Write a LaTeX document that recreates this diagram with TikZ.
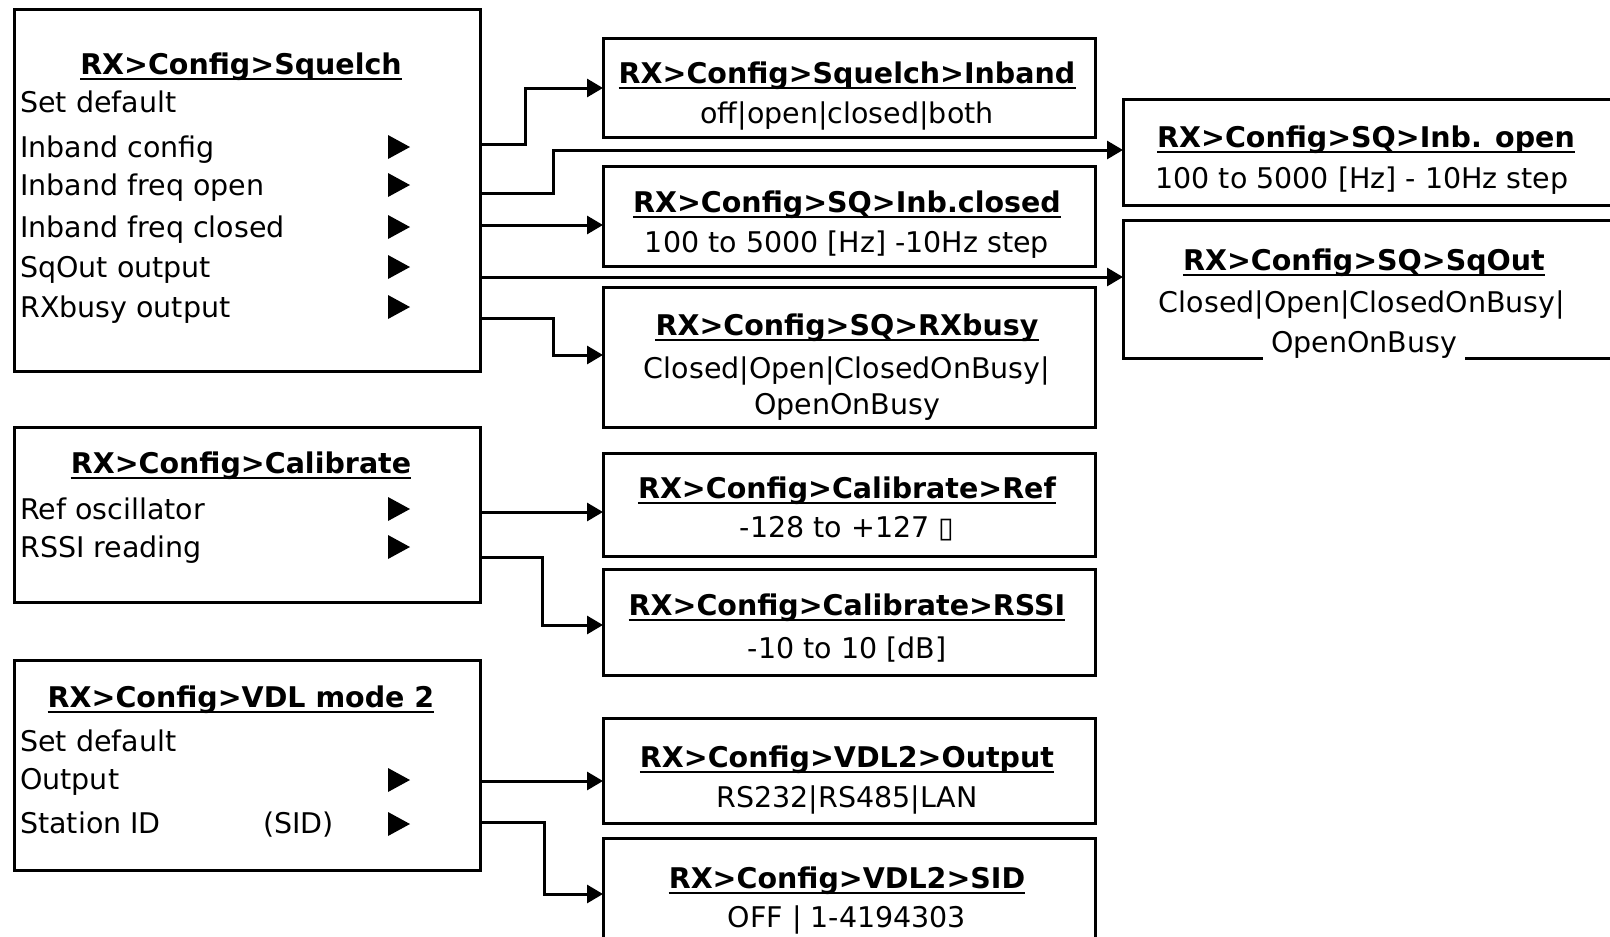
\documentclass[tikz,border=0pt]{standalone}
\usepackage{fontspec}
\setmainfont{DejaVu Sans}
\usetikzlibrary{arrows.meta}
\begin{document}
\begin{tikzpicture}[x=1pt,y=-1pt,
  font=\fontsize{28.5}{34}\selectfont,
  box/.style={draw, line width=3pt, anchor=north west, inner sep=0pt, outer sep=0pt},
  item/.style={inner sep=0pt, anchor=base west},
  val/.style={inner sep=0pt, anchor=base},
  ttl/.style={inner sep=0pt, anchor=base, font=\fontsize{28.5}{34}\selectfont\bfseries},
  uline/.style={line width=2.6pt},
  conn/.style={line width=3pt, -{Triangle[length=16pt,width=18pt]}},
  tri/.pic={\fill (0,-12) -- (22,0) -- (0,12) -- cycle;}
]
\useasboundingbox (0,0) rectangle (1610,937);
\clip (0,0) rectangle (1610,937);
\fill[white] (0,0) rectangle (1610,937);
\newcommand\ulin[1]{\draw[uline] ([yshift=-5pt]#1.base west) -- ([yshift=-5pt]#1.base east);}

% ---------- left boxes ----------
\node[box, minimum width=466pt, minimum height=361.5pt] (sq) at (14,9.5) {};
\node[box, minimum width=466pt, minimum height=175pt] (cal) at (14,427) {};
\node[box, minimum width=466pt, minimum height=210pt] (vdl) at (14,660) {};

% ---------- right boxes ----------
\node[box, minimum width=492pt, minimum height=99pt]  (inb)  at (603,38) {};
\node[box, minimum width=492pt, minimum height=100pt] (ibc)  at (603,166) {};
\node[box, minimum width=492pt, minimum height=140pt] (rxb)  at (603,287) {};
\node[box, minimum width=520pt, minimum height=106pt] (ibo)  at (1123,99) {};
\node[box, minimum width=520pt, minimum height=138pt] (sqo)  at (1123,220) {};
\node[box, minimum width=492pt, minimum height=103pt] (ref)  at (603,453) {};
\node[box, minimum width=492pt, minimum height=106pt] (rssi) at (603,569) {};
\node[box, minimum width=492pt, minimum height=105pt] (out)  at (603,718) {};
\node[box, minimum width=492pt, minimum height=130pt] (sid)  at (603,838) {};

% ---------- Squelch menu ----------
\node[ttl] (sqT) at (241,74) {RX>Config>Squelch}; \ulin{sqT}
\node[item] (sq1) at (20,112) {Set default};
\node[item] (sq2) at (20,157) {Inband config};
\node[item] (sq3) at (20,195) {Inband freq open};
\node[item] (sq4) at (20,237) {Inband freq closed};
\node[item] (sq5) at (20,277) {SqOut output};
\node[item] (sq6) at (20,317) {RXbusy output};
\pic at (388,147) {tri};
\pic at (388,185) {tri};
\pic at (388,227) {tri};
\pic at (388,267) {tri};
\pic at (388,307) {tri};

% ---------- Calibrate menu ----------
\node[ttl] (calT) at (241,473) {RX>Config>Calibrate}; \ulin{calT}
\node[item] (cal1) at (20,519) {Ref oscillator};
\node[item] (cal2) at (20,557) {RSSI reading};
\pic at (388,509) {tri};
\pic at (388,547) {tri};

% ---------- VDL menu ----------
\node[ttl] (vdlT) at (241,707) {RX>Config>VDL mode 2}; \ulin{vdlT}
\node[item] (vdl1) at (20,751) {Set default};
\node[item] (vdl2) at (20,789) {Output};
\node[item] (vdl3) at (20,833) {Station ID};
\node[item] (vdl4) at (263,833) {(SID)};
\pic at (388,780) {tri};
\pic at (388,824) {tri};

% ---------- right box texts ----------
\node[ttl] (inbT) at (847,83) {RX>Config>Squelch>Inband}; \ulin{inbT}
\node[val] (inbV) at (847,123) {off|open|closed|both};

\node[ttl] (ibcT) at (847,212) {RX>Config>SQ>Inb.closed}; \ulin{ibcT}
\node[val] (ibcV) at (847,252) {100 to 5000 [Hz] -10Hz step};

\node[ttl] (rxbT) at (847,335) {RX>Config>SQ>RXbusy}; \ulin{rxbT}
\node[val] (rxbV) at (847,378) {Closed|Open|ClosedOnBusy|};
\node[val] (rxbW) at (847,414) {OpenOnBusy};

\node[ttl] (iboT) at (1366,147) {RX>Config>SQ>Inb. open}; \ulin{iboT}
\node[val] (iboV) at (1362,188) {100 to 5000 [Hz] - 10Hz step};

\node[ttl] (sqoT) at (1364,270) {RX>Config>SQ>SqOut}; \ulin{sqoT}
\node[val] (sqoV) at (1362,312) {Closed|Open|ClosedOnBusy|};
\node[val, fill=white, inner xsep=8pt, inner ysep=5pt] (sqoW) at (1364,352) {OpenOnBusy};

\node[ttl] (refT) at (847,498) {RX>Config>Calibrate>Ref}; \ulin{refT}
\node[val] (refV) at (847,537) {-128 to +127 ▯};

\node[ttl] (rssiT) at (847,615) {RX>Config>Calibrate>RSSI}; \ulin{rssiT}
\node[val] (rssiV) at (847,658) {-10 to 10 [dB]};

\node[ttl] (outT) at (847,767) {RX>Config>VDL2>Output}; \ulin{outT}
\node[val] (outV) at (847,807) {RS232|RS485|LAN};

\node[ttl] (sidT) at (847,888) {RX>Config>VDL2>SID}; \ulin{sidT}
\node[val] (sidV) at (847,927) {OFF | 1-4194303};

% ---------- connectors ----------
\draw[conn] (sq.east |- 0,144) -- (525,144) -- (525,88) -- (inb.west |- 0,88);
\draw[conn] (sq.east |- 0,193) -- (553,193) -- (553,150) -- (ibo.west |- 0,150);
\draw[conn] (sq.east |- 0,225) -- (ibc.west |- 0,225);
\draw[conn] (sq.east |- 0,277) -- (sqo.west |- 0,277);
\draw[conn] (sq.east |- 0,318) -- (553,318) -- (553,355) -- (rxb.west |- 0,355);
\draw[conn] (cal.east |- 0,512) -- (ref.west |- 0,512);
\draw[conn] (cal.east |- 0,557) -- (542,557) -- (542,625) -- (rssi.west |- 0,625);
\draw[conn] (vdl.east |- 0,781) -- (out.west |- 0,781);
\draw[conn] (vdl.east |- 0,822) -- (544,822) -- (544,894) -- (sid.west |- 0,894);
\end{tikzpicture}
\end{document}
